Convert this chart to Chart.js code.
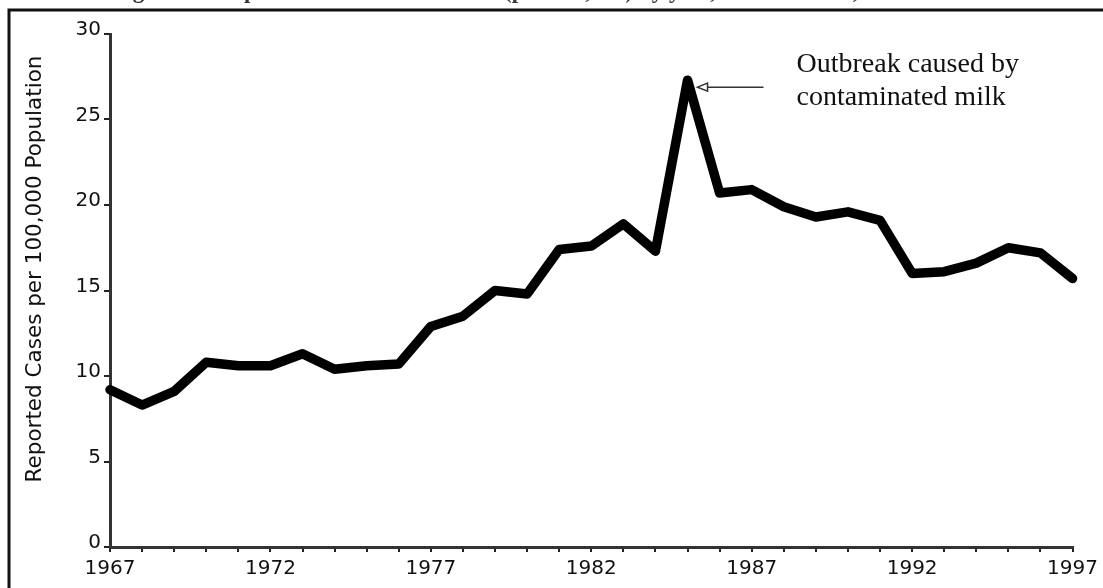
<!DOCTYPE html>
<html>
<head>
<meta charset="utf-8">
<script src="https://cdn.jsdelivr.net/npm/chart.js"></script>
<style>
  html, body { margin: 0; padding: 0; background: #fff; }
  canvas { display: block; }
</style>
</head>
<body>
<canvas id="salmonellaChart" width="1103" height="588"></canvas>
<script>
// reported salmonellosis, cases per 100,000, by year
const years = [1967, 1968, 1969, 1970, 1971, 1972, 1973, 1974, 1975, 1976,
  1977, 1978, 1979, 1980, 1981, 1982, 1983, 1984, 1985, 1986,
  1987, 1988, 1989, 1990, 1991, 1992, 1993, 1994, 1995, 1996, 1997];
const rates = [9.2, 8.3, 9.1, 10.8, 10.6, 10.6, 11.3, 10.4, 10.6, 10.7,
  12.9, 13.5, 15.0, 14.8, 17.4, 17.6, 18.9, 17.3, 27.3, 20.7,
  20.9, 19.9, 19.3, 19.6, 19.1, 16.0, 16.1, 16.6, 17.5, 17.2, 15.7];
const yTicks = [0, 5, 10, 15, 20, 25, 30];
const labelYears = [1967, 1972, 1977, 1982, 1987, 1992, 1997];

const titleText = 'Figure 1.7 Reported salmonellosis rates (per 100,000) by year, United States, 1967\u20131997';
const yAxisTitle = 'Reported Cases per 100,000 Population';
const noteLines = ['Outbreak caused by', 'contaminated milk'];
const outbreakYear = 1985;

const sansFont = '"DejaVu Sans", Verdana, sans-serif';
Chart.defaults.font.family = sansFont;
Chart.defaults.color = '#111';

// frame, clipped caption, rotated axis title and the arrow note
const decorPlugin = {
  id: 'decor',
  afterDraw(chart) {
    const { ctx, scales: { x, y } } = chart;
    ctx.save();

    // outer frame (top + left edges only are visible)
    ctx.strokeStyle = '#111';
    ctx.lineWidth = 3;
    ctx.beginPath();
    ctx.moveTo(9, 588);
    ctx.lineTo(9, 10);
    ctx.lineTo(1103, 10);
    ctx.stroke();

    // caption, mostly cut off at the top of the picture
    ctx.fillStyle = '#333';
    ctx.font = 'bold 23px "Liberation Serif", serif';
    ctx.textAlign = 'center';
    ctx.textBaseline = 'alphabetic';
    ctx.fillText(titleText, 540, -2);

    // y axis title
    ctx.save();
    ctx.translate(35, 269);
    ctx.rotate(-Math.PI / 2);
    ctx.font = '21.5px ' + sansFont;
    ctx.fillStyle = '#111';
    ctx.textAlign = 'center';
    ctx.textBaseline = 'middle';
    ctx.fillText(yAxisTitle, 0, 0);
    ctx.restore();

    // arrow pointing at the 1985 peak
    const idx = years.indexOf(outbreakYear);
    const tipX = x.getPixelForValue(outbreakYear) + 10;
    const tipY = y.getPixelForValue(rates[idx]) + 7;
    ctx.strokeStyle = '#333';
    ctx.lineWidth = 1.5;
    ctx.beginPath();
    ctx.moveTo(tipX + 66, tipY);
    ctx.lineTo(tipX + 9, tipY);
    ctx.stroke();
    ctx.beginPath();
    ctx.moveTo(tipX, tipY);
    ctx.lineTo(tipX + 10, tipY - 4);
    ctx.lineTo(tipX + 10, tipY + 4);
    ctx.closePath();
    ctx.fillStyle = '#fff';
    ctx.fill();
    ctx.stroke();

    // note text
    ctx.fillStyle = '#111';
    ctx.font = '28px "Liberation Serif", "Times New Roman", serif';
    ctx.textAlign = 'left';
    ctx.textBaseline = 'alphabetic';
    noteLines.forEach((line, i) => {
      ctx.fillText(line, tipX + 99, tipY - 15 + i * 33);
    });

    ctx.restore();
  }
};

new Chart(document.getElementById('salmonellaChart'), {
  type: 'line',
  data: {
    datasets: [{
      label: 'Rate',
      data: years.map((yr, i) => ({ x: yr, y: rates[i] })),
      borderColor: '#000',
      borderWidth: 9.5,
      borderJoinStyle: 'round',
      borderCapStyle: 'round',
      pointRadius: 0,
      tension: 0,
      fill: false,
      clip: false
    }]
  },
  options: {
    responsive: false,
    animation: false,
    layout: { padding: { top: 34, right: 28, left: 0, bottom: 0 } },
    plugins: {
      legend: { display: false },
      tooltip: { enabled: false }
    },
    scales: {
      x: {
        type: 'linear',
        min: years[0],
        max: years[years.length - 1],
        afterFit(scale) { scale.height = 41; },
        afterBuildTicks(scale) { scale.ticks = years.map(v => ({ value: v })); },
        ticks: {
          autoSkip: false,
          maxRotation: 0,
          padding: 5,
          font: { size: 20 },
          color: '#111',
          callback: v => labelYears.includes(v) ? String(v) : ''
        },
        grid: { drawOnChartArea: false, drawTicks: true, tickLength: 5, color: '#222', lineWidth: 2 },
        border: { color: '#333', width: 3 }
      },
      y: {
        min: 0,
        max: 30,
        afterFit(scale) { scale.width = 110; },
        afterBuildTicks(scale) { scale.ticks = yTicks.map(v => ({ value: v })); },
        ticks: {
          padding: 3,
          labelOffset: -4,
          font: { size: 20 },
          color: '#111'
        },
        grid: { drawOnChartArea: false, drawTicks: true, tickLength: 6, color: '#222', lineWidth: 2 },
        border: { color: '#333', width: 3 }
      }
    }
  },
  plugins: [decorPlugin]
});
</script>
</body>
</html>
